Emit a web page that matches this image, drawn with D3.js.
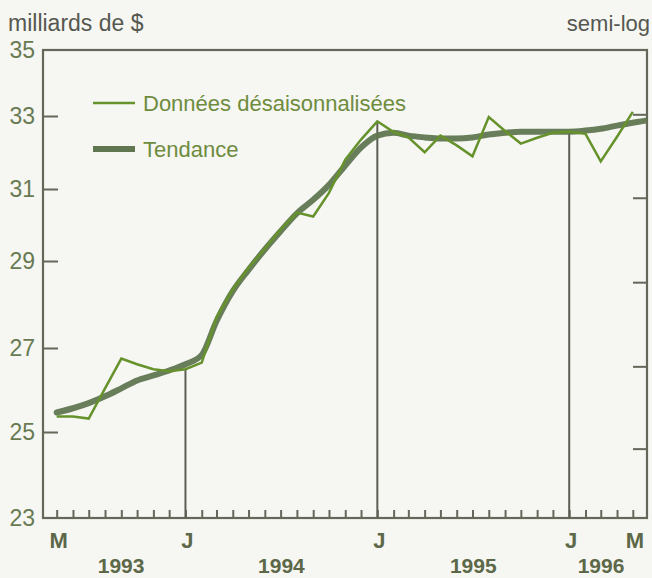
<!DOCTYPE html>
<html>
<head>
<meta charset="utf-8">
<script src="https://cdn.jsdelivr.net/npm/d3@7"></script>
<style>
  body { margin: 0; background: #f6f6f2; }
  text { font-family: "Liberation Sans", Arial, sans-serif; }
</style>
</head>
<body>
<div id="chart"></div>
<script>
// monthly data, May 1993 -> May 1996 (billions of $)
const months = d3.timeMonth.range(new Date(1993, 4, 1), new Date(1996, 5, 1))
const adjusted = [
  25.36, 25.36, 25.31, 26.02, 26.74, 26.60, 26.48, 26.43,
  26.48, 26.64, 27.69, 28.33, 28.84, 29.33, 29.86, 30.33, 30.22, 30.89, 31.79, 32.34,
  32.85, 32.55, 32.40, 31.99, 32.45, 32.18, 31.88, 32.97, 32.58, 32.23, 32.39, 32.53,
  32.56, 32.50, 31.74, 32.42, 33.12
]
// trend runs one month further, to the frame
const trendMonths = d3.timeMonth.range(new Date(1993, 4, 1), new Date(1996, 6, 1))
const trend = [
  25.45, 25.55, 25.67, 25.83, 26.02, 26.21, 26.33, 26.45,
  26.60, 26.83, 27.60, 28.29, 28.79, 29.31, 29.81, 30.31, 30.69, 31.11, 31.63, 32.12,
  32.45, 32.53, 32.45, 32.40, 32.37, 32.37, 32.40, 32.48, 32.53, 32.56, 32.56, 32.56,
  32.56, 32.59, 32.64, 32.73, 32.81, 32.88
]
const yTicks = [23, 25, 27, 29, 31, 33, 35]
const rightTicks = [33.05, 30.75, 28.5, 26.55, 24.6]
const monthLabelDates = [new Date(1993, 4, 1), new Date(1994, 0, 1), new Date(1995, 0, 1), new Date(1996, 0, 1), new Date(1996, 4, 1)]
const monthLabelText = ['M', 'J', 'J', 'J', 'M']
const years = ['1993', '1994', '1995', '1996']
const yearSpans = [
  [new Date(1993, 4, 1), new Date(1994, 0, 1)],
  [new Date(1994, 0, 1), new Date(1995, 0, 1)],
  [new Date(1995, 0, 1), new Date(1996, 0, 1)],
  [new Date(1996, 0, 1), new Date(1996, 4, 1)]
]
const januaries = [new Date(1994, 0, 1), new Date(1995, 0, 1), new Date(1996, 0, 1)]

const width = 652
const height = 578
const plot = { left: 43, right: 647, top: 50, bottom: 518 }

const axisColor = '#64675a'
const labelColor = '#687a52'
const thinColor = '#66922c'
const trendColor = '#607650'

const svg = d3
  .select('#chart')
  .append('svg')
  .attr('width', width)
  .attr('height', height)

svg.append('rect').attr('width', width).attr('height', height).attr('fill', '#f6f6f2')

const x = d3
  .scaleTime()
  .domain([new Date(1993, 3, 5), new Date(1996, 4, 28)])
  .range([plot.left, plot.right])

// semi-log scale, fitted to where the printed ticks sit
const y = d3
  .scaleLog()
  .domain(yTicks)
  .range([518, 432, 348, 261, 189, 116, 50])

svg.append('clipPath')
  .attr('id', 'clip')
  .append('rect')
  .attr('x', plot.left)
  .attr('y', plot.top)
  .attr('width', plot.right - plot.left)
  .attr('height', plot.bottom - plot.top)

/* frame */
svg.append('rect')
  .attr('x', plot.left)
  .attr('y', plot.top)
  .attr('width', plot.right - plot.left)
  .attr('height', plot.bottom - plot.top)
  .attr('fill', 'none')
  .attr('stroke', axisColor)
  .attr('stroke-width', 2.2)

/* left axis */
const yAxis = d3.axisRight(y).tickValues(yTicks.slice(1, -1)).tickSize(15).tickFormat('')
svg.append('g')
  .attr('class', 'y-axis')
  .attr('transform', 'translate(' + plot.left + ',0)')
  .call(yAxis)
svg.selectAll('.y-axis .domain').remove()
svg.selectAll('.y-axis .tick line').attr('stroke', axisColor).attr('stroke-width', 2)

svg.selectAll('.ylabel')
  .data(yTicks)
  .enter()
  .append('text')
  .attr('class', 'ylabel')
  .attr('x', 35)
  .attr('y', d => y(d))
  .attr('dy', '0.36em')
  .attr('text-anchor', 'end')
  .attr('fill', labelColor)
  .style('font-size', '23px')
  .text(d => d)

/* right axis ticks */
const rAxis = d3.axisLeft(y).tickValues(rightTicks).tickSize(14).tickFormat('')
svg.append('g')
  .attr('class', 'r-axis')
  .attr('transform', 'translate(' + plot.right + ',0)')
  .call(rAxis)
svg.selectAll('.r-axis .domain').remove()
svg.selectAll('.r-axis .tick line').attr('stroke', axisColor).attr('stroke-width', 2)

/* monthly ticks on the bottom */
const xAxis = d3.axisTop(x).tickValues(months).tickSize(8).tickFormat('')
svg.append('g')
  .attr('class', 'x-axis')
  .attr('transform', 'translate(0,' + plot.bottom + ')')
  .call(xAxis)
svg.selectAll('.x-axis .domain').remove()
svg.selectAll('.x-axis .tick line').attr('stroke', axisColor).attr('stroke-width', 2)

/* january lines up to the data */
svg.selectAll('.jan')
  .data(januaries)
  .enter()
  .append('line')
  .attr('class', 'jan')
  .attr('x1', d => x(d))
  .attr('x2', d => x(d))
  .attr('y1', plot.bottom)
  .attr('y2', d => y(adjusted[months.findIndex(m => +m === +d)]))
  .attr('stroke', '#5d5f55')
  .attr('stroke-width', 2)

/* month + year labels */
svg.selectAll('.mlabel')
  .data(monthLabelDates)
  .enter()
  .append('text')
  .attr('class', 'mlabel')
  .attr('x', d => x(d) + 2)
  .attr('y', 548)
  .attr('text-anchor', 'middle')
  .attr('fill', '#5c6848')
  .style('font-size', '22px')
  .style('font-weight', 'bold')
  .text((d, i) => monthLabelText[i])

svg.selectAll('.year')
  .data(years)
  .enter()
  .append('text')
  .attr('class', 'year')
  .attr('x', (d, i) => (x(yearSpans[i][0]) + x(yearSpans[i][1])) / 2)
  .attr('y', 573)
  .attr('text-anchor', 'middle')
  .attr('fill', '#5c6848')
  .style('font-size', '21px')
  .style('font-weight', 'bold')
  .text(d => d)

/* lines */
const g = svg.append('g').attr('clip-path', 'url(#clip)')

const line = d3.line()
  .x(d => x(d[0]))
  .y(d => y(d[1]))

g.append('path')
  .datum(trendMonths.map((m, i) => [m, trend[i]]))
  .attr('d', line.curve(d3.curveMonotoneX))
  .attr('fill', 'none')
  .attr('stroke', trendColor)
  .attr('stroke-width', 6)
  .attr('stroke-linecap', 'round')
  .attr('opacity', 0.95)

g.append('path')
  .datum(months.map((m, i) => [m, adjusted[i]]))
  .attr('d', line.curve(d3.curveLinear))
  .attr('fill', 'none')
  .attr('stroke', thinColor)
  .attr('stroke-width', 2.5)
  .attr('stroke-linejoin', 'miter')

/* legend */
const legend = [
  { label: 'Données désaisonnalisées', color: thinColor, w: 2.5, y: 103 },
  { label: 'Tendance', color: trendColor, w: 6, y: 149 }
]
legend.forEach(l => {
  svg.append('line')
    .attr('x1', 93).attr('x2', 135)
    .attr('y1', l.y).attr('y2', l.y)
    .attr('stroke', l.color)
    .attr('stroke-width', l.w)
  svg.append('text')
    .attr('x', 143)
    .attr('y', l.y)
    .attr('dy', '0.36em')
    .attr('fill', '#6e8c3e')
    .style('font-size', '22px')
    .text(l.label)
})

/* titles */
svg.append('text')
  .attr('x', 8)
  .attr('y', 31)
  .attr('fill', '#555850')
  .style('font-size', '23px')
  .text('milliards de $')

svg.append('text')
  .attr('x', 650)
  .attr('y', 31)
  .attr('text-anchor', 'end')
  .attr('fill', '#555850')
  .style('font-size', '22px')
  .text('semi-log')
</script>
</body>
</html>
